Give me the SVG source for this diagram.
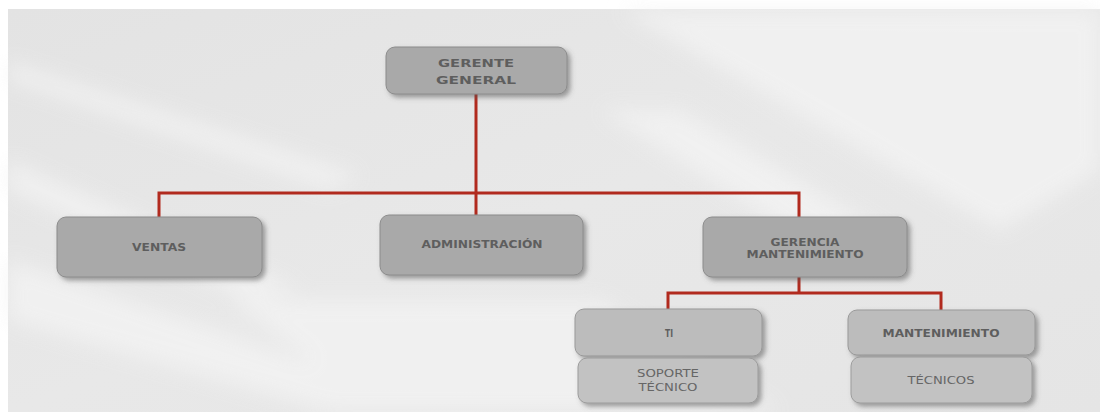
<svg xmlns="http://www.w3.org/2000/svg" width="1100" height="412" viewBox="0 0 1100 412">
  <defs>
    <linearGradient id="bg" x1="0" y1="0" x2="1" y2="1">
      <stop offset="0" stop-color="#e3e3e3"/>
      <stop offset="0.5" stop-color="#e8e8e8"/>
      <stop offset="1" stop-color="#e5e5e5"/>
    </linearGradient>
    <filter id="soft" x="-20%" y="-20%" width="140%" height="140%">
      <feGaussianBlur stdDeviation="10"/>
    </filter>
    <filter id="shadow" x="-10%" y="-20%" width="130%" height="150%">
      <feDropShadow dx="3" dy="3" stdDeviation="2.5" flood-color="#555" flood-opacity="0.55"/>
    </filter>
    <style>
      .box { fill: #a9a9a9; stroke: #8c8c8c; stroke-width: 1; filter: url(#shadow); }
      .sub { fill: #bcbcbc; stroke: #999; stroke-width: 1; filter: url(#shadow); }
      .sub2 { fill: #c2c2c2; stroke: #9c9c9c; stroke-width: 1; filter: url(#shadow); }
      .lbl { font-family: "DejaVu Sans", "Liberation Sans", sans-serif; font-weight: bold; font-size: 10.5px; fill: #5e5e5e; text-anchor: middle; }
      .lbl2 { font-family: "DejaVu Sans", "Liberation Sans", sans-serif; font-size: 10px; fill: #666; text-anchor: middle; }
      .wire { fill: none; stroke: #b12a1e; stroke-width: 3; }
    </style>
  </defs>

  <!-- page background with soft light streaks -->
  <rect x="0" y="0" width="1100" height="412" fill="#ffffff"/>
  <rect x="8" y="9" width="1092" height="403" fill="url(#bg)"/>
  <g filter="url(#soft)" fill="#f3f3f3" opacity="0.8">
    <polygon points="8,62 8,80 330,190 360,175"/>
    <polygon points="8,160 8,190 250,300 300,290"/>
    <polygon points="8,260 8,320 330,412 460,412"/>
    <polygon points="620,10 1100,10 1100,170 1000,230"/>
    <polygon points="600,110 680,110 900,240 820,250"/>
    <polygon points="230,300 600,300 780,412 380,412"/>
  </g>

  <!-- connectors -->
  <g id="connectors">
    <path class="wire" d="M476,94 V216"/>
    <path class="wire" d="M159,217 V193 H799 V217"/>
    <path class="wire" d="M799,277 V293"/>
    <path class="wire" d="M668,309 V293 H941 V310"/>
  </g>

  <g id="gerente-general">
    <rect class="box" x="386" y="47" width="181" height="47" rx="9"/>
    <text class="lbl" x="476" y="67" textLength="76" lengthAdjust="spacingAndGlyphs">GERENTE</text>
    <text class="lbl" x="476" y="84" textLength="80" lengthAdjust="spacingAndGlyphs">GENERAL</text>
  </g>

  <g id="ventas">
    <rect class="box" x="57" y="217" width="205" height="60" rx="9"/>
    <text class="lbl" x="159" y="251" textLength="54" lengthAdjust="spacingAndGlyphs">VENTAS</text>
  </g>

  <g id="administracion">
    <rect class="box" x="380" y="215" width="203" height="60" rx="9"/>
    <text class="lbl" x="482" y="248" textLength="121" lengthAdjust="spacingAndGlyphs">ADMINISTRACIÓN</text>
  </g>

  <g id="gerencia-mantenimiento">
    <rect class="box" x="703" y="217" width="204" height="60" rx="9"/>
    <text class="lbl" x="805" y="246" textLength="69" lengthAdjust="spacingAndGlyphs">GERENCIA</text>
    <text class="lbl" x="805" y="258" textLength="117" lengthAdjust="spacingAndGlyphs">MANTENIMIENTO</text>
  </g>

  <g id="ti">
    <rect class="sub" x="575" y="309" width="187" height="47" rx="9"/>
    <text class="lbl" x="669" y="337" textLength="8" lengthAdjust="spacingAndGlyphs">TI</text>
  </g>

  <g id="soporte-tecnico">
    <rect class="sub2" x="578" y="358" width="180" height="45" rx="9"/>
    <text class="lbl2" x="668" y="377" textLength="62" lengthAdjust="spacingAndGlyphs">SOPORTE</text>
    <text class="lbl2" x="668" y="391" textLength="59" lengthAdjust="spacingAndGlyphs">TÉCNICO</text>
  </g>

  <g id="mantenimiento">
    <rect class="sub" x="848" y="310" width="187" height="45" rx="9"/>
    <text class="lbl" x="941" y="337" textLength="117" lengthAdjust="spacingAndGlyphs">MANTENIMIENTO</text>
  </g>

  <g id="tecnicos">
    <rect class="sub2" x="851" y="357" width="181" height="46" rx="9"/>
    <text class="lbl2" x="941" y="384" textLength="67" lengthAdjust="spacingAndGlyphs">TÉCNICOS</text>
  </g>
</svg>
